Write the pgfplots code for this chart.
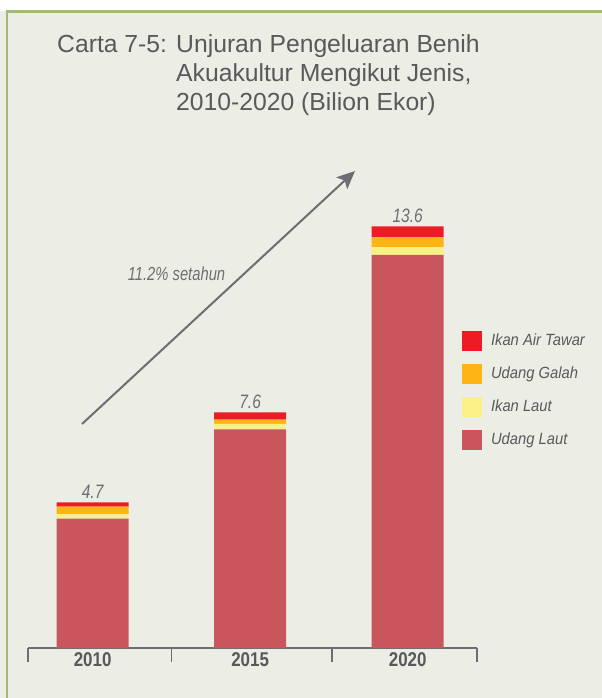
\documentclass[border=0pt]{standalone}
\usepackage{fontspec}
\setmainfont{Liberation Sans}
\newfontfamily\condfont[FakeStretch=0.78]{Liberation Sans}
\newfontfamily\valfont[FakeStretch=0.80]{Liberation Sans}
\newfontfamily\legfont[FakeStretch=0.91]{Liberation Sans}
\newfontfamily\yearfont[FakeStretch=0.85]{Liberation Sans}
\usepackage{pgfplots}
\pgfplotsset{compat=1.18}
\usetikzlibrary{arrows.meta}
\definecolor{bg}{HTML}{ECEEE5}
\definecolor{framec}{HTML}{A3B87A}
\definecolor{txt}{HTML}{58595B}
\definecolor{lt}{HTML}{6D6E71}
\definecolor{udanglaut}{HTML}{C8565C}
\definecolor{ikanlaut}{HTML}{F7F188}
\definecolor{udanggalah}{HTML}{FDB515}
\definecolor{ikanair}{HTML}{ED1C24}
\pgfplotsset{sqlegend/.style={legend image code/.code={\fill[##1] (0bp,-5.7bp) rectangle (20bp,14.3bp);}}}
\tikzset{vallab/.style={anchor=base, yshift=3.5bp, inner sep=0pt, text=lt, font=\valfont\itshape\fontsize{19.5}{22}\selectfont},
  ttl/.style={inner sep=0pt, anchor=base west, text=txt, font=\fontsize{24.8}{29}\selectfont}}
\begin{document}
\begin{tikzpicture}
\useasboundingbox (0bp,0bp) rectangle (602bp,698bp);
\fill[white] (0bp,0bp) rectangle (602bp,698bp);
\fill[bg] (0bp,0bp) rectangle (602bp,687bp);
\fill[framec] (5.5bp,0bp) rectangle (7.5bp,688bp);
\fill[framec] (5.5bp,685bp) rectangle (602bp,688bp);
\node[ttl] at (57bp,645bp) {Carta 7-5:};
\node[ttl] at (176bp,645bp) {Unjuran Pengeluaran Benih};
\node[ttl] at (176bp,616bp) {Akuakultur Mengikut Jenis,};
\node[ttl] at (176bp,587bp) {2010-2020 (Bilion Ekor)};
\begin{axis}[
  at={(28bp,50bp)}, anchor=south west,
  scale only axis, width=449bp, height=465bp,
  xmin=-0.41, xmax=2.44, ymin=0, ymax=15,
  ybar stacked, bar width=72bp,
  axis y line=none, axis x line*=bottom,
  x axis line style={lt, line width=1.5bp},
  xtick={0,1,2}, xticklabels={2010,2015,2020},
  major tick length=0pt,
  minor xtick={-0.41,0.5,1.52,2.44},
  minor tick length=14bp,
  tick align=outside,
  minor tick style={lt, line width=1.5bp},
  xticklabel style={font=\yearfont\bfseries\fontsize{20}{24}\selectfont, text=txt, inner sep=0pt, yshift=-4bp},
  clip=false,
  reverse legend,
  legend cell align=left,
  legend style={at={(0.9666,0.6817)}, anchor=north west, draw=none, fill=none,
    inner sep=0pt, outer sep=0pt, row sep=13bp, column sep=9bp,
    font=\legfont\itshape\fontsize{16.3}{19}\selectfont, text=txt,
    nodes={inner sep=0pt, text height=14.3bp, text depth=5.7bp, anchor=base west}},
  sqlegend,
]
\addplot[fill=udanglaut, draw=none] coordinates {(0,4.17) (1,7.05) (2,12.68)};
\addlegendentry{Udang Laut}
\addplot[fill=ikanlaut, draw=none] coordinates {(0,0.15) (1,0.18) (2,0.25)};
\addlegendentry{Ikan Laut}
\addplot[fill=udanggalah, draw=none] coordinates {(0,0.24) (1,0.14) (2,0.32)};
\addlegendentry{Udang Galah}
\addplot[fill=ikanair, draw=none] coordinates {(0,0.14) (1,0.23) (2,0.35)};
\addlegendentry{Ikan Air Tawar}
\node[vallab] at (axis cs:0,4.7) {4.7};
\node[vallab] at (axis cs:1,7.6) {7.6};
\node[vallab] at (axis cs:2,13.6) {13.6};
\end{axis}
\draw[lt, line width=2bp, -{Stealth[length=18bp, width=16bp, inset=4bp]}] (82bp,274bp) -- (355bp,527bp);
\node[anchor=base, inner sep=0pt, text=lt, font=\condfont\itshape\fontsize{19}{22}\selectfont] at (176.5bp,417bp) {11.2\% setahun};
\end{tikzpicture}
\end{document}
